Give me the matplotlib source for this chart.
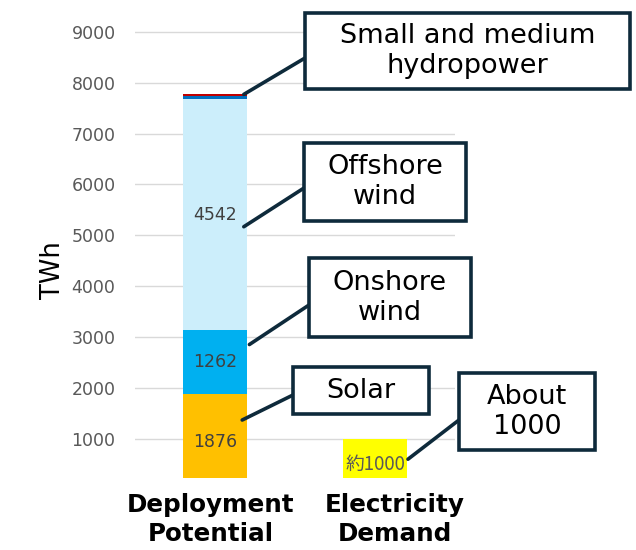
import matplotlib
matplotlib.use("Agg")
import matplotlib.pyplot as plt
from matplotlib.patches import Rectangle

# --- datos ---
categories = ["Deployment\nPotential", "Electricity\nDemand"]
solar = [1876, 0]
onshore = [1262, 0]
offshore = [4542, 0]
hydro_a = [52, 0]
hydro_b = [40, 0]
demand = [0, 1000]

seg_labels = ["1876", "1262", "4542"]
demand_label = "約1000"
yticks = [1000, 2000, 3000, 4000, 5000, 6000, 7000, 8000, 9000]

W, H = 636, 550
fig = plt.figure(figsize=(W / 100, H / 100), dpi=100)
ax = fig.add_axes([135 / W, 72 / H, 320 / W, 478 / H])

x = [0, 1]
bw = 0.406
bottoms = [0, 0]
stack = [(solar, "#FFC000"), (onshore, "#00B0F0"), (offshore, "#CCEEFB"),
         (hydro_a, "#0070C0"), (hydro_b, "#C00000")]
centers = []
for vals, col in stack:
    ax.bar(x, vals, bw, bottom=bottoms, color=col, zorder=2)
    centers.append(bottoms[0] + vals[0] / 2)
    bottoms = [b + v for b, v in zip(bottoms, vals)]
ax.bar(x, demand, bw, color="#FFFF00", zorder=2)

for c, lab in zip(centers[:3], seg_labels):
    ax.text(0, c, lab, ha="center", va="center", fontsize=12.5, color="#404040", zorder=3)
ax.text(1, demand[1] / 2, demand_label, ha="center", va="center", fontsize=13.5,
        color="#595959", family=["Noto Sans CJK JP", "DejaVu Sans"], zorder=3)

ax.set_xlim(-0.5, 1.5)
ax.set_ylim(234, 9624)
ax.set_yticks(yticks)
ax.set_yticklabels([str(v) for v in yticks], fontsize=12.5, color="#595959")
ax.grid(axis="y", color="#D9D9D9", linewidth=1, zorder=0)
ax.set_axisbelow(True)
# etiquetas de categoría un poco desplazadas, como en el original
ax.set_xticks([x[0] - 0.025, x[1] + 0.122])
ax.set_xticklabels(categories, fontsize=17.7, fontweight="bold", linespacing=1.25)
ax.tick_params(axis="both", length=0)
ax.tick_params(axis="y", pad=14)
ax.tick_params(axis="x", pad=11)
for s in ax.spines.values():
    s.set_visible(False)
ax.set_ylabel("TWh", fontsize=18.5)
ax.yaxis.set_label_coords(-0.217, 0.434)

# --- cajas de llamada ---
navy = "#0E2A3B"
callouts = [
    ("Small and medium\nhydropower", (0.18, 7770), (305, 13, 630, 89), (305, 58)),
    ("Offshore\nwind", (0.18, 5170), (304, 143, 466, 221), (304, 188)),
    ("Onshore\nwind", (0.215, 2856), (309, 258, 471, 337), (309, 305)),
    ("Solar", (0.17, 1373), (293, 367, 429, 414), (293, 395)),
    ("About\n1000", (1.206, 603), (459, 373, 595, 450), (459, 420)),
]
for txt, xy, (x0, y0, x1, y1), (lx, ly) in callouts:
    rect = Rectangle((x0 / W, 1 - y1 / H), (x1 - x0) / W, (y1 - y0) / H,
                     transform=fig.transFigure, facecolor="white",
                     edgecolor=navy, linewidth=2.6, zorder=5)
    fig.patches.append(rect)
    fig.text((x0 + x1) / 2 / W, 1 - (y0 + y1) / 2 / H, txt, ha="center", va="center",
             fontsize=19.5, linespacing=1.2, zorder=6)
    ax.annotate("", xy=xy, xycoords="data", xytext=(lx / W, 1 - ly / H),
                textcoords="figure fraction",
                arrowprops=dict(arrowstyle="-", color=navy, lw=2.6,
                                shrinkA=0, shrinkB=0), zorder=4)

fig.savefig("out.png", dpi=100)
